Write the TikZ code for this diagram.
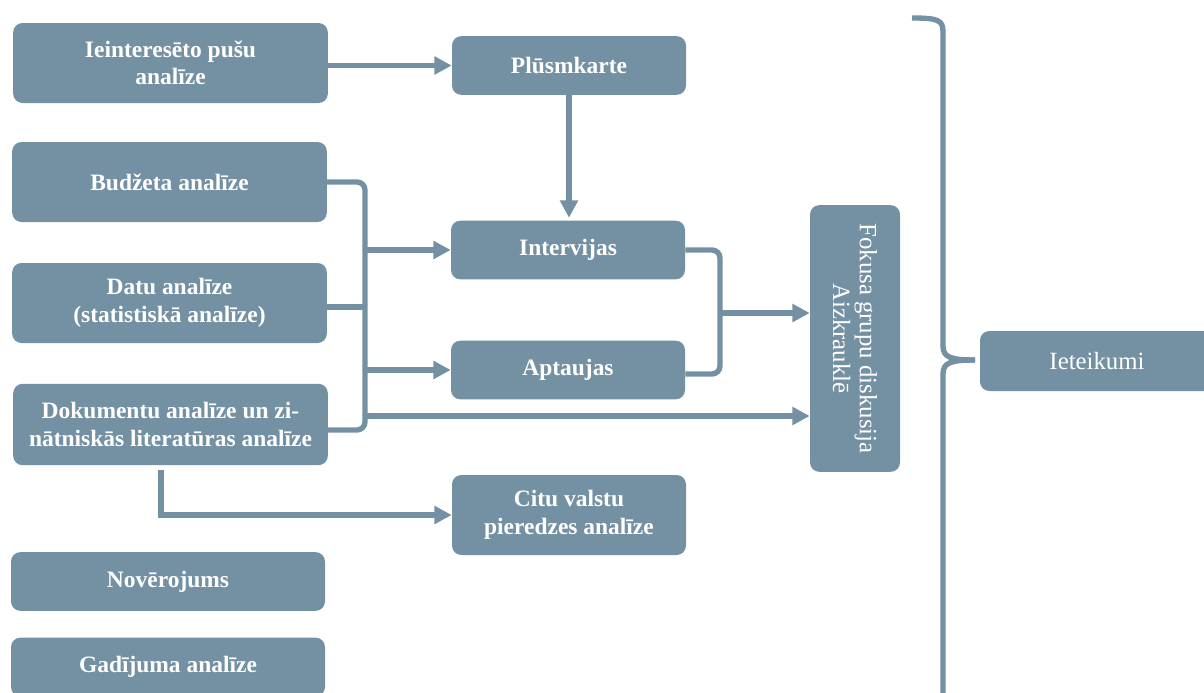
\documentclass[tikz,border=0pt]{standalone}
\usepackage{fontspec}
\setmainfont{Liberation Serif}
\usetikzlibrary{arrows.meta}
\definecolor{slate}{RGB}{116,145,163}
\tikzset{
  box/.style={fill=slate, draw=none, rounded corners=7pt, text=white, align=center,
    inner sep=0pt, font=\fontsize{17.6}{20.5}\selectfont\bfseries},
  lightbox/.style={box, font=\fontsize{18.6}{20}\selectfont},
  conn/.style={draw=slate, line width=4pt},
  arr/.style={conn, -{Triangle[length=13pt,width=13pt]}},
}
\begin{document}
\begin{tikzpicture}[x=0.75pt,y=-0.75pt]
\useasboundingbox (0,0) rectangle (1204,693);
\clip (0,0) rectangle (1204,693);

% left column
\node[box, minimum width=236pt, minimum height=60pt] (ieint) at (170.5,63) {Ieinteresēto pušu\\analīze};
\node[box, minimum width=236pt, minimum height=60pt] (budz) at (169.5,182) {Budžeta analīze};
\node[box, minimum width=236pt, minimum height=60pt] (datu) at (169.5,303) {Datu analīze\\(statistiskā analīze)};
\node[box, minimum width=236pt, minimum height=61pt] (dok) at (170.5,424.5) {Dokumentu analīze un zi-\\nātniskās literatūras analīze};
\node[box, minimum width=235.5pt, minimum height=44pt] (nov) at (168,581.5) {Novērojums};
\node[box, minimum width=235.5pt, minimum height=44pt] (gad) at (168,667) {Gadījuma analīze};

% middle column
\node[box, minimum width=175.5pt, minimum height=44pt] (plu) at (569,65.5) {Plūsmkarte};
\node[box, minimum width=175.5pt, minimum height=44pt] (int) at (568,250) {Intervijas};
\node[box, minimum width=175.5pt, minimum height=44pt] (apt) at (568,370) {Aptaujas};
\node[box, minimum width=175.5pt, minimum height=60pt] (citu) at (569,515) {Citu valstu\\pieredzes analīze};

% focus group
\node[lightbox, minimum width=200pt, minimum height=67.5pt, rotate=-90] (fok) at (855,338.5) {Fokusa grupu diskusija\\Aizkrauklē};

% recommendations
\node[lightbox, minimum width=175.5pt, minimum height=45pt] (iet) at (1097,361) {Ieteikumi};

% helper coordinates
\coordinate (bx) at (365,0);
\coordinate (rx) at (720,0);
\coordinate (ylow) at (0,416);
\coordinate (dk) at (161,470);
\coordinate (bt) at (975,360);

% connectors
\draw[arr] (ieint.east |- plu.west) -- (plu.west);
\draw[arr] (plu.south) -- ([yshift=2pt]plu.south |- int.north);

\draw[conn, rounded corners=6pt] (budz.east) -- (bx |- budz.east) -- (bx |- 0,430) -- (dok.east |- 0,430);
\draw[conn] (datu.east |- 0,307) -- (bx |- 0,307);
\draw[arr] (int.west -| bx) -- (int.west);
\draw[arr] (apt.west -| bx) -- (apt.west);
\draw[arr] (bx |- ylow) -- (fok.south |- ylow);

\draw[conn, rounded corners=6pt] (int.east) -- (rx |- int.east) -- (rx |- 0,374) -- (apt.east |- 0,374);
\draw[arr] (rx |- 0,313) -- (fok.south |- 0,313);

\draw[arr] (dk) |- (citu.west);

% brace
\draw[conn] (912,18) .. controls (938,18) and (943,20) .. (943,32) -- (943,346) .. controls (943,357) and (950,360) .. (bt);
\draw[conn] (943,700) -- (943,374) .. controls (943,363) and (950,360) .. (bt);
\end{tikzpicture}
\end{document}
